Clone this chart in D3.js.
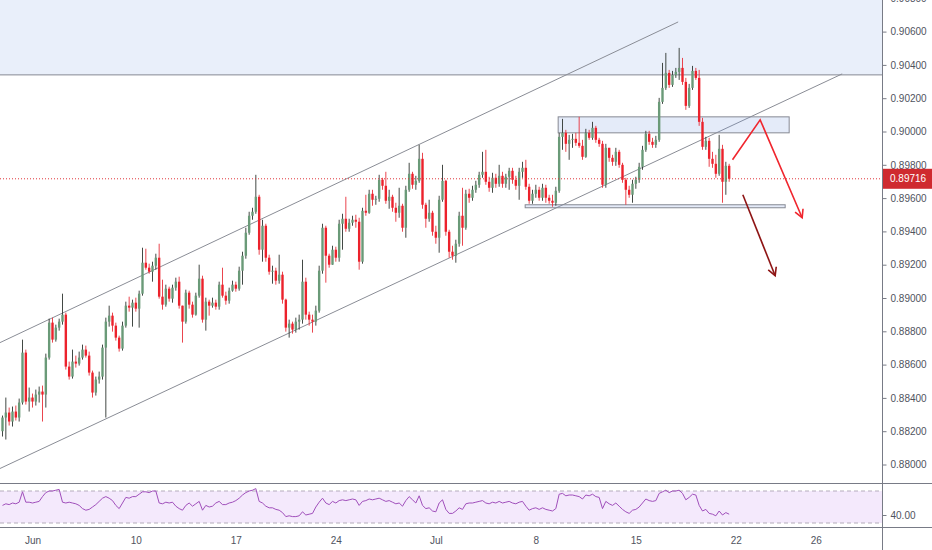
<!DOCTYPE html>
<html>
<head>
<meta charset="utf-8">
<script src="https://cdn.jsdelivr.net/npm/d3@7"></script>
<style>
body { margin: 0; background: #fff; }
svg { display: block; font-family: "Liberation Sans", Arial, sans-serif; }
.axis text { fill: #50535e; font-size: 10px; }
.axis line { stroke: #787b86; }
</style>
</head>
<body>
<svg width="932" height="550"></svg>
<script>
// 4h candles, open of each bar = previous close
var firstOpen = 0.88200;
var closes = [
  0.88282,0.88312,0.88258,0.88318,0.88282,0.88372,0.88672,0.88378,0.88402,0.88378,
  0.88420,0.88438,0.88420,0.88642,0.88852,0.88750,0.88822,0.88858,0.88900,0.88588,
  0.88528,0.88618,0.88606,0.88642,0.88690,0.88654,0.88552,0.88432,0.88510,0.88528,
  0.88702,0.88858,0.88894,0.88834,0.88762,0.88696,0.88834,0.88954,0.88942,0.88972,
  0.88936,0.89026,0.89212,0.89182,0.89158,0.89194,0.89242,0.89008,0.88960,0.89056,
  0.88996,0.89062,0.89098,0.88954,0.88858,0.89032,0.88960,0.88900,0.89014,0.89116,
  0.88870,0.88978,0.88954,0.88972,0.88948,0.89080,0.89014,0.88984,0.89044,0.89080,
  0.89056,0.89164,0.89254,0.89392,0.89494,0.89518,0.89608,0.89290,0.89434,0.89242,
  0.89158,0.89164,0.89104,0.89140,0.88990,0.88822,0.88846,0.88810,0.88858,0.88870,
  0.89098,0.88900,0.88870,0.88858,0.88924,0.89164,0.89422,0.89254,0.89200,0.89290,
  0.89242,0.89446,0.89476,0.89416,0.89452,0.89470,0.89458,0.89218,0.89524,0.89512,
  0.89626,0.89590,0.89596,0.89710,0.89674,0.89584,0.89608,0.89542,0.89512,0.89554,
  0.89422,0.89650,0.89746,0.89680,0.89704,0.89836,0.89560,0.89476,0.89512,0.89398,
  0.89362,0.89590,0.89704,0.89398,0.89278,0.89254,0.89326,0.89494,0.89422,0.89626,
  0.89602,0.89650,0.89680,0.89740,0.89758,0.89698,0.89662,0.89722,0.89686,0.89734,
  0.89686,0.89728,0.89764,0.89710,0.89674,0.89758,0.89782,0.89668,0.89584,0.89626,
  0.89650,0.89602,0.89662,0.89602,0.89584,0.89572,0.89644,0.89968,0.89992,0.89926,
  0.89950,0.89956,0.89932,0.89914,0.89848,0.89992,0.89962,0.90022,0.89950,0.89926,
  0.89680,0.89902,0.89842,0.89818,0.89878,0.89800,0.89710,0.89650,0.89620,0.89686,
  0.89710,0.89788,0.89890,0.89986,0.89938,0.89920,0.89950,0.90178,0.90262,0.90352,
  0.90280,0.90340,0.90358,0.90382,0.90298,0.90154,0.90262,0.90364,0.90322,0.90058,
  0.89908,0.89944,0.89836,0.89806,0.89746,0.89896,0.89698,0.89794,0.89716
];
var highs = [
  0.88294,0.88402,0.88342,0.88348,0.88354,0.88396,0.88750,0.88690,0.88462,0.88426,
  0.88450,0.88468,0.88474,0.88666,0.88876,0.88882,0.88840,0.88876,0.89026,0.88912,
  0.88618,0.88690,0.88654,0.88678,0.88720,0.88714,0.88678,0.88564,0.88528,0.88558,
  0.88720,0.88882,0.88954,0.88912,0.88852,0.88774,0.88858,0.88978,0.89008,0.88990,
  0.89002,0.89044,0.89302,0.89296,0.89206,0.89218,0.89266,0.89326,0.89110,0.89080,
  0.89068,0.89080,0.89122,0.89128,0.88954,0.89050,0.89044,0.88978,0.89032,0.89200,
  0.89134,0.89002,0.88990,0.89002,0.88990,0.89098,0.89182,0.89038,0.89062,0.89104,
  0.89098,0.89188,0.89278,0.89422,0.89518,0.89542,0.89740,0.89620,0.89470,0.89446,
  0.89260,0.89194,0.89182,0.89260,0.89158,0.88996,0.88870,0.88858,0.88882,0.88900,
  0.89230,0.89122,0.88918,0.88900,0.88954,0.89194,0.89446,0.89434,0.89266,0.89314,
  0.89308,0.89470,0.89506,0.89608,0.89476,0.89494,0.89500,0.89482,0.89542,0.89620,
  0.89650,0.89650,0.89614,0.89740,0.89722,0.89758,0.89650,0.89620,0.89572,0.89662,
  0.89566,0.89674,0.89812,0.89758,0.89734,0.89920,0.89872,0.89572,0.89590,0.89524,
  0.89434,0.89614,0.89800,0.89710,0.89410,0.89314,0.89350,0.89518,0.89662,0.89650,
  0.89656,0.89674,0.89704,0.89758,0.89878,0.89890,0.89728,0.89752,0.89746,0.89800,
  0.89758,0.89746,0.89782,0.89782,0.89734,0.89782,0.89818,0.89830,0.89686,0.89650,
  0.89680,0.89668,0.89686,0.89680,0.89620,0.89620,0.89668,0.89992,0.90076,0.90010,
  0.89980,0.89986,0.89992,0.90088,0.89950,0.90016,0.90010,0.90058,0.90034,0.89962,
  0.89944,0.89926,0.89902,0.89860,0.89902,0.89890,0.89812,0.89722,0.89674,0.89710,
  0.89728,0.89812,0.89914,0.90004,0.90004,0.89962,0.89974,0.90202,0.90412,0.90472,
  0.90370,0.90364,0.90382,0.90502,0.90442,0.90322,0.90286,0.90394,0.90382,0.90370,
  0.90082,0.89968,0.89962,0.89878,0.89860,0.89980,0.89920,0.89818,0.89806
];
var lows = [
  0.88168,0.88150,0.88234,0.88228,0.88264,0.88258,0.88360,0.88360,0.88318,0.88342,
  0.88354,0.88372,0.88258,0.88342,0.88630,0.88732,0.88738,0.88804,0.88840,0.88570,
  0.88510,0.88516,0.88582,0.88594,0.88630,0.88642,0.88534,0.88402,0.88414,0.88486,
  0.88510,0.88282,0.88828,0.88798,0.88744,0.88678,0.88684,0.88822,0.88918,0.88828,
  0.88918,0.88822,0.89014,0.89170,0.89146,0.89098,0.89170,0.88996,0.88930,0.88948,
  0.88978,0.88972,0.89044,0.88936,0.88732,0.88846,0.88936,0.88882,0.88894,0.89002,
  0.88852,0.88804,0.88894,0.88942,0.88930,0.88930,0.89002,0.88960,0.88966,0.89038,
  0.89038,0.89044,0.89080,0.89236,0.89380,0.89470,0.89506,0.89260,0.89218,0.89218,
  0.89140,0.89086,0.89080,0.89086,0.88966,0.88798,0.88762,0.88786,0.88792,0.88810,
  0.88846,0.88870,0.88834,0.88792,0.88834,0.88912,0.89146,0.89092,0.89182,0.89206,
  0.89218,0.89218,0.89290,0.89398,0.89398,0.89434,0.89422,0.89170,0.89206,0.89494,
  0.89506,0.89554,0.89560,0.89578,0.89650,0.89566,0.89536,0.89518,0.89458,0.89482,
  0.89398,0.89362,0.89638,0.89656,0.89650,0.89692,0.89536,0.89422,0.89458,0.89374,
  0.89326,0.89272,0.89578,0.89374,0.89242,0.89230,0.89212,0.89308,0.89314,0.89410,
  0.89572,0.89584,0.89632,0.89662,0.89722,0.89680,0.89638,0.89632,0.89662,0.89668,
  0.89662,0.89662,0.89650,0.89686,0.89650,0.89590,0.89722,0.89650,0.89566,0.89566,
  0.89602,0.89584,0.89584,0.89572,0.89566,0.89548,0.89554,0.89632,0.89890,0.89878,
  0.89830,0.89902,0.89914,0.89902,0.89830,0.89842,0.89950,0.89950,0.89932,0.89908,
  0.89662,0.89662,0.89818,0.89794,0.89794,0.89782,0.89692,0.89560,0.89602,0.89572,
  0.89656,0.89692,0.89770,0.89878,0.89920,0.89902,0.89902,0.89938,0.90166,0.90250,
  0.90262,0.90268,0.90322,0.90310,0.90280,0.90130,0.90142,0.90250,0.90310,0.90034,
  0.89890,0.89890,0.89788,0.89782,0.89722,0.89734,0.89572,0.89620,0.89698
];
var rsi = [
  52,54,53,55,54,56,69,56,56,55,56,57,63,68,70,70,71,72,56,55,
  56,55,54,52,48,46,47,50,53,57,61,63,61,58,52,48,55,62,61,63,
  63,66,69,69,68,70,70,55,54,56,55,56,51,48,46,52,55,51,54,57,
  46,52,50,51,55,57,53,53,55,56,58,61,65,68,70,71,73,57,55,51,
  49,49,47,46,43,38,39,38,38,39,44,40,41,42,50,56,61,55,53,57,
  55,58,59,58,59,60,59,52,57,58,60,59,60,61,59,57,58,56,54,55,
  51,58,63,59,55,64,52,48,49,45,44,55,59,47,42,42,45,49,47,54,
  55,55,56,57,58,55,54,56,55,57,55,56,57,55,54,56,57,51,46,48,
  49,47,49,47,46,45,48,66,67,64,65,65,64,63,60,65,64,66,63,62,
  48,57,54,52,55,51,47,44,42,46,47,50,55,60,58,57,58,67,69,71,
  68,70,70,71,67,59,62,66,65,52,45,47,42,41,39,45,40,43,41
];

var priceTicks = [0.880, 0.882, 0.884, 0.886, 0.888, 0.890, 0.892, 0.894,
                  0.896, 0.898, 0.900, 0.902, 0.904, 0.906, 0.908];
var rsiTicks = [40];
var rsiBands = [70, 30];
var dateTicks = [9, 40, 70, 100, 130, 160, 190, 220, 244];
var dateLabels = ["Jun", "10", "17", "24", "Jul", "8", "15", "22", "26"];

// drawings: [bar index, price]
var zoneLow = 0.90340;
var channelTop = [[-0.75, 0.88732], [202.7, 0.90658]];
var channelBottom = [[-0.75, 0.87976], [251.9, 0.90346]];
var resistBox = [[166.7, 0.90088], [236.0, 0.89992]];
var supportBox = [[156.8, 0.89560], [234.8, 0.89542]];
var arrowUpDown = [[219.0, 0.89830], [227.3, 0.90070], [239.9, 0.89482]];
var arrowDown = [[222.1, 0.89620], [231.8, 0.89134]];

var svg = d3.select("svg"),
    width = +svg.attr("width"),
    height = +svg.attr("height");

var axisX = 882, mainBottom = 483, rsiBottom = 527;

var x = d3.scaleLinear().domain([0, 264]).range([2.5, 882.5]);
var y = d3.scaleLinear().domain([0.88, 0.90]).range([464.5, 131.5]);
var yr = d3.scaleLinear().domain([30, 70]).range([523, 491]);

var defs = svg.append("defs");
defs.append("clipPath").attr("id", "mainclip")
    .append("rect").attr("width", axisX).attr("height", mainBottom);
defs.append("clipPath").attr("id", "rsiclip")
    .append("rect").attr("y", mainBottom).attr("width", axisX).attr("height", rsiBottom - mainBottom);

var plot = svg.append("g").attr("clip-path", "url(#mainclip)");

// blue zone at the top
plot.append("rect")
    .attr("x", 0).attr("y", -5)
    .attr("width", axisX).attr("height", y(zoneLow) + 5)
    .attr("fill", "rgba(120,155,225,0.16)");
plot.append("line")
    .attr("x1", 0).attr("x2", axisX)
    .attr("y1", y(zoneLow)).attr("y2", y(zoneLow))
    .attr("stroke", "#868993");

// channel
[channelTop, channelBottom].forEach(function (pts) {
    plot.append("line")
        .attr("x1", x(pts[0][0])).attr("y1", y(pts[0][1]))
        .attr("x2", x(pts[1][0])).attr("y2", y(pts[1][1]))
        .attr("stroke", "#8a8d96").attr("stroke-width", 1);
});

// boxes
[resistBox, supportBox].forEach(function (b) {
    plot.append("rect")
        .attr("x", x(b[0][0])).attr("y", y(b[0][1]))
        .attr("width", x(b[1][0]) - x(b[0][0]))
        .attr("height", y(b[1][1]) - y(b[0][1]))
        .attr("fill", "rgba(120,155,225,0.2)")
        .attr("stroke", "#868993").attr("stroke-width", 1);
});

// candles
var bars = closes.map(function (c, i) {
    var o = i ? closes[i - 1] : firstOpen;
    return { i: i, o: o, c: c,
             h: Math.max(highs[i], o, c), l: Math.min(lows[i], o, c) };
});

var candle = plot.append("g").selectAll("g")
    .data(bars)
    .enter().append("g");

candle.append("line")
    .attr("x1", function (d) { return x(d.i); })
    .attr("x2", function (d) { return x(d.i); })
    .attr("y1", function (d) { return y(d.h); })
    .attr("y2", function (d) { return y(d.l); })
    .attr("stroke", function (d) { return d.c >= d.o ? "#2e3430" : "#e8303a"; })
    .attr("stroke-width", 0.9);

candle.append("rect")
    .attr("x", function (d) { return x(d.i) - 1.2; })
    .attr("width", 2.4)
    .attr("y", function (d) { return y(Math.max(d.o, d.c)); })
    .attr("height", function (d) { return Math.max(0.8, Math.abs(y(d.o) - y(d.c))); })
    .attr("fill", function (d) { return d.c >= d.o ? "#6a9a78" : "#ec222c"; });

// last price line
var last = closes[closes.length - 1];
plot.append("line")
    .attr("x1", 0).attr("x2", axisX)
    .attr("y1", y(last)).attr("y2", y(last))
    .attr("stroke", "#e0353b").attr("stroke-dasharray", "1,2");

// arrows
function arrow(pts, color) {
    var p = pts.map(function (d) { return [x(d[0]), y(d[1])]; });
    plot.append("path")
        .attr("d", d3.line()(p))
        .attr("fill", "none").attr("stroke", color).attr("stroke-width", 1.6);
    var a = p[p.length - 2], b = p[p.length - 1];
    var ang = Math.atan2(b[1] - a[1], b[0] - a[0]), len = 9, spread = 0.5;
    var head = [
        [b[0] - len * Math.cos(ang - spread), b[1] - len * Math.sin(ang - spread)],
        b,
        [b[0] - len * Math.cos(ang + spread), b[1] - len * Math.sin(ang + spread)]
    ];
    plot.append("path")
        .attr("d", d3.line()(head))
        .attr("fill", "none").attr("stroke", color).attr("stroke-width", 1.6);
}
arrow(arrowUpDown, "#f0262e");
arrow(arrowDown, "#8e1414");

// RSI pane
var rsiG = svg.append("g").attr("clip-path", "url(#rsiclip)");
rsiG.append("rect")
    .attr("x", 0).attr("y", yr(rsiBands[0]))
    .attr("width", axisX).attr("height", yr(rsiBands[1]) - yr(rsiBands[0]))
    .attr("fill", "#f4e9fc");
rsiG.selectAll(".band")
    .data(rsiBands)
    .enter().append("line")
    .attr("x1", 0).attr("x2", axisX)
    .attr("y1", function (d) { return yr(d); })
    .attr("y2", function (d) { return yr(d); })
    .attr("stroke", "#b4acbb").attr("stroke-dasharray", "4,3");
rsiG.append("path")
    .datum(rsi)
    .attr("d", d3.line().x(function (d, i) { return x(i); }).y(function (d) { return yr(d); }))
    .attr("fill", "none").attr("stroke", "#a04fbb").attr("stroke-width", 1);

// frame
svg.append("line").attr("x1", axisX + 0.5).attr("x2", axisX + 0.5)
    .attr("y1", 0).attr("y2", height).attr("stroke", "#787b86");
[mainBottom, rsiBottom].forEach(function (yy) {
    svg.append("line").attr("x1", 0).attr("x2", width)
        .attr("y1", yy + 0.5).attr("y2", yy + 0.5).attr("stroke", "#787b86");
});

// axes
svg.append("g")
    .attr("class", "axis")
    .attr("transform", "translate(" + (axisX + 0.5) + ",0)")
    .call(d3.axisRight(y).tickValues(priceTicks).tickSize(4).tickPadding(4)
        .tickFormat(d3.format(".5f")))
    .select(".domain").remove();

svg.append("g")
    .attr("class", "axis")
    .attr("transform", "translate(" + (axisX + 0.5) + ",0)")
    .call(d3.axisRight(yr).tickValues(rsiTicks).tickSize(4).tickPadding(4)
        .tickFormat(d3.format(".2f")))
    .select(".domain").remove();

svg.append("g")
    .attr("class", "axis")
    .attr("transform", "translate(0," + rsiBottom + ")")
    .call(d3.axisBottom(x).tickValues(dateTicks).tickSize(0).tickPadding(10)
        .tickFormat(function (d, i) { return dateLabels[i]; }))
    .select(".domain").remove();

// last price label
var tag = svg.append("g").attr("transform", "translate(" + (axisX + 1) + "," + y(last) + ")");
tag.append("rect").attr("x", 0).attr("y", -10).attr("width", 50).attr("height", 20)
    .attr("fill", "#cf2a2f");
tag.append("text").attr("x", 7).attr("dy", "0.35em")
    .attr("fill", "#fff").attr("font-size", "10px")
    .text(d3.format(".5f")(last));
</script>
</body>
</html>
